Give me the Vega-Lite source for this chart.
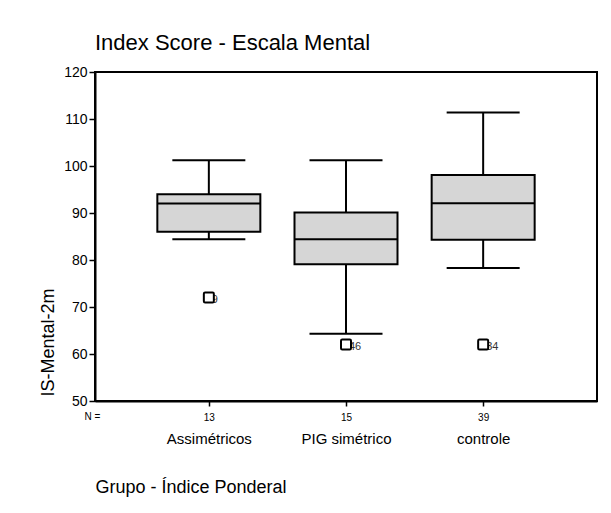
{
  "$schema": "https://vega.github.io/schema/vega-lite/v6.json",
  "width": 502,
  "height": 329,
  "autosize": "none",
  "padding": {"left": 95, "top": 72, "right": 14, "bottom": 112},
  "background": "white",
  "title": {"text": "Index Score - Escala Mental", "anchor": "start", "frame": "group", "fontSize": 22, "font": "Liberation Sans", "fontWeight": "normal", "baseline": "alphabetic", "offset": 19, "dy": 26, "color": "black"},
  "data": {"values": [
    {"group": "Assimétricos", "n": "13", "min": 84.4, "q1": 86, "median": 92, "q3": 94, "max": 101.2, "outlier": 72, "case": "9"},
    {"group": "PIG simétrico", "n": "15", "min": 64.3, "q1": 79.1, "median": 84.4, "q3": 90.1, "max": 101.2, "outlier": 62, "case": "46"},
    {"group": "controle", "n": "39", "min": 78.3, "q1": 84.3, "median": 92.1, "q3": 98.1, "max": 111.4, "outlier": 62, "case": "34"}
  ]},
  "config": {
    "font": "Liberation Sans",
    "view": {"stroke": "black", "strokeWidth": 2},
    "axis": {"grid": false, "domainColor": "black", "domainWidth": 2, "tickColor": "black", "tickWidth": 1.5, "labelColor": "black", "titleColor": "black", "titleFontWeight": "normal"},
    "axisY": {"values": [50, 60, 70, 80, 90, 100, 110, 120], "tickSize": 6, "labelFontSize": 14, "labelPadding": 2, "titleFontSize": 18, "titleAngle": 270, "titleAlign": "left", "titleBaseline": "alphabetic", "titleX": -42, "titleY": 324}
  },
  "layer": [
    {
      "mark": {"type": "rule", "strokeWidth": 2, "color": "black"},
      "encoding": {
        "x": {"field": "n", "type": "nominal", "sort": null, "scale": {"type": "point", "padding": 0.83},
              "axis": {"orient": "bottom", "labelAngle": 0, "tickSize": 5, "labelFontSize": 10, "labelPadding": 6, "title": "N =", "titleFontSize": 10, "titleX": -11, "titleY": 18, "titleAlign": "left", "titleBaseline": "alphabetic"}},
        "y": {"field": "min", "type": "quantitative", "scale": {"domain": [50, 120], "nice": false, "zero": false}, "title": "IS-Mental-2m"},
        "y2": {"field": "max"}
      }
    },
    {
      "mark": {"type": "bar", "width": 103, "fill": "#d6d6d6", "stroke": "black", "strokeWidth": 2},
      "encoding": {
        "x": {"field": "group", "type": "nominal", "sort": null, "scale": {"type": "point", "padding": 0.83},
              "axis": {"orient": "bottom", "offset": 0, "labelAngle": 0, "domain": false, "ticks": false, "labelFontSize": 15, "labelPadding": 30, "title": "Grupo - Índice Ponderal", "titleFontSize": 18, "titleX": 0, "titleY": 91, "titleAlign": "left", "titleBaseline": "alphabetic"}},
        "y": {"field": "q1", "type": "quantitative", "title": "IS-Mental-2m"},
        "y2": {"field": "q3"}
      }
    },
    {
      "mark": {"type": "tick", "size": 103, "thickness": 2, "color": "black", "opacity": 1},
      "encoding": {
        "x": {"field": "group", "type": "nominal", "sort": null, "scale": {"type": "point", "padding": 0.83}, "axis": null},
        "y": {"field": "median", "type": "quantitative", "title": "IS-Mental-2m"}
      }
    },
    {
      "mark": {"type": "tick", "size": 73, "thickness": 2, "color": "black", "opacity": 1},
      "encoding": {
        "x": {"field": "group", "type": "nominal", "sort": null, "scale": {"type": "point", "padding": 0.83}, "axis": null},
        "y": {"field": "min", "type": "quantitative", "title": "IS-Mental-2m"}
      }
    },
    {
      "mark": {"type": "tick", "size": 73, "thickness": 2, "color": "black", "opacity": 1},
      "encoding": {
        "x": {"field": "group", "type": "nominal", "sort": null, "scale": {"type": "point", "padding": 0.83}, "axis": null},
        "y": {"field": "max", "type": "quantitative", "title": "IS-Mental-2m"}
      }
    },
    {
      "mark": {"type": "text", "align": "left", "baseline": "middle", "dx": 3, "dy": 2, "fontSize": 11, "color": "#333333"},
      "encoding": {
        "x": {"field": "group", "type": "nominal", "sort": null, "scale": {"type": "point", "padding": 0.83}, "axis": null},
        "y": {"field": "outlier", "type": "quantitative", "title": "IS-Mental-2m"},
        "text": {"field": "case"}
      }
    },
    {
      "mark": {"type": "point", "shape": "M -0.75 -1 L 0.75 -1 Q 1 -1 1 -0.75 L 1 0.75 Q 1 1 0.75 1 L -0.75 1 Q -1 1 -1 0.75 L -1 -0.75 Q -1 -1 -0.75 -1 Z", "size": 100, "filled": true, "fill": "white", "stroke": "black", "strokeWidth": 2, "opacity": 1},
      "encoding": {
        "x": {"field": "group", "type": "nominal", "sort": null, "scale": {"type": "point", "padding": 0.83}, "axis": null},
        "y": {"field": "outlier", "type": "quantitative", "title": "IS-Mental-2m"}
      }
    }
  ],
  "resolve": {"scale": {"x": "independent"}, "axis": {"x": "independent"}}
}
